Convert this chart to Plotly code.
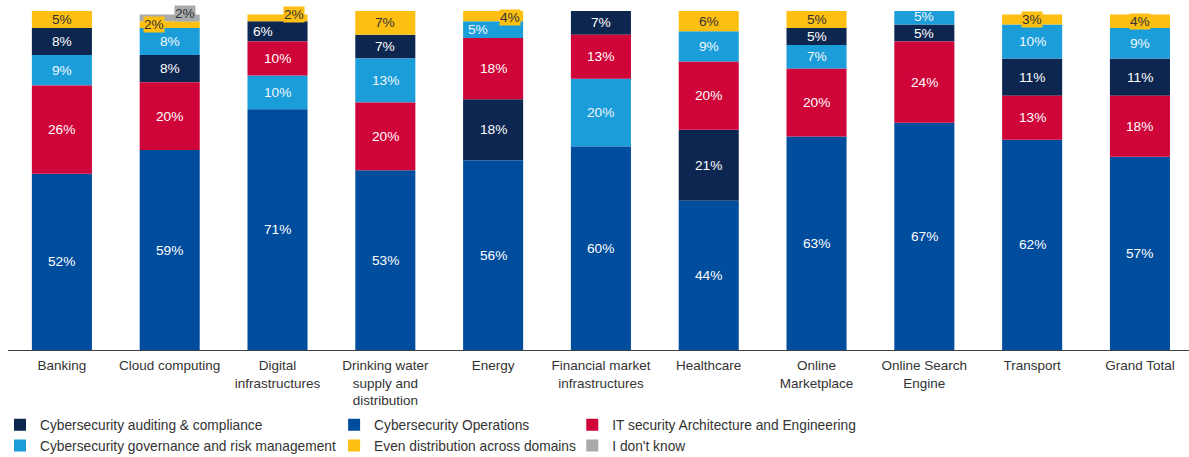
import plotly.graph_objects as go

categories = ["Banking", "Cloud computing", "Digital<br>infrastructures",
              "Drinking water<br>supply and<br>distribution", "Energy",
              "Financial market<br>infrastructures", "Healthcare",
              "Online<br>Marketplace", "Online Search<br>Engine", "Transport", "Grand Total"]

auditing = [8, 8, 6, 7, 18, 7, 21, 5, 5, 11, 11]
governance = [9, 8, 10, 13, 5, 20, 9, 7, 5, 10, 9]
operations = [52, 59, 71, 53, 56, 60, 44, 63, 67, 62, 57]
even = [5, 2, 2, 7, 4, 0, 6, 5, 0, 3, 4]
it_arch = [26, 20, 10, 20, 18, 13, 20, 20, 24, 13, 18]
dont_know = [0, 2, 0, 0, 0, 0, 0, 0, 0, 0, 0]

series = [
    ("Cybersecurity auditing & compliance", auditing, "#0D2650", "white", "legend"),
    ("Cybersecurity governance and risk management", governance, "#1A9DD9", "#F2F8FC", "legend"),
    ("Cybersecurity Operations", operations, "#004C9D", "white", "legend2"),
    ("Even distribution across domains", even, "#FDBF12", "#333333", "legend2"),
    ("IT security Architecture and Engineering", it_arch, "#CF0438", "white", "legend3"),
    ("I don't know", dont_know, "#A8AAAB", "#333333", "legend3"),
]
# tie-break order for equal values when stacking (bottom first)
tie_rank = {"Cybersecurity auditing & compliance": 0,
            "Cybersecurity governance and risk management": 1,
            "IT security Architecture and Engineering": 2,
            "Cybersecurity Operations": 3,
            "Even distribution across domains": 4,
            "I don't know": 5}

n = len(categories)
bases = {s[0]: [0] * n for s in series}
for j in range(n):
    order = sorted(series, key=lambda s: (-s[1][j], tie_rank[s[0]]))
    acc = 0
    for s in order:
        bases[s[0]][j] = acc
        acc += s[1][j]

# label nudges (style) for crowded small segments: (series, category index) -> (xshift, yshift, boxed)
nudges = {
    ("Even distribution across domains", 1): (-16, 0, True),
    ("I don't know", 1): (15, 4, True),
    ("Even distribution across domains", 2): (16, 3, True),
    ("Cybersecurity auditing & compliance", 2): (-15, 0, False),
    ("Even distribution across domains", 4): (17, -3, True),
    ("Cybersecurity governance and risk management", 4): (-15, 0, False),
    ("Even distribution across domains", 9): (0, 0, True),
    ("Even distribution across domains", 10): (0, 0, True),
}

fig = go.Figure()
annotations = []
for name, vals, color, tcolor, lg in series:
    fig.add_trace(go.Bar(
        x=list(range(n)), y=vals, base=bases[name], name=name,
        marker=dict(color=color, line=dict(width=0)), width=0.557,
        legend=lg, cliponaxis=False, hoverinfo="skip"))
    for j, v in enumerate(vals):
        if v <= 0:
            continue
        xs, ys, boxed = nudges.get((name, j), (0, 0, False))
        annotations.append(dict(
            x=j, y=bases[name][j] + v / 2, xref="x", yref="y", text=f"{v}%",
            showarrow=False, xshift=xs, yshift=ys,
            font=dict(family="Liberation Sans, Arial", size=13.7, color=tcolor),
            bgcolor=color if boxed else None, borderpad=0))

legend_common = dict(orientation="v", xref="container", yref="container",
                     xanchor="left", yanchor="top", bgcolor="rgba(0,0,0,0)",
                     font=dict(family="Liberation Sans, Arial", size=13.75, color="#333333"),
                     tracegroupgap=0, itemclick=False)

fig.update_layout(
    width=1189, height=457,
    margin=dict(l=8, r=0, t=11, b=107, autoexpand=False),
    barmode="overlay",
    plot_bgcolor="white", paper_bgcolor="white",
    showlegend=True,
    xaxis=dict(range=[-0.5, 10.455], tickmode="array", tickvals=list(range(n)),
               ticktext=categories, showline=True, linecolor="#404040", linewidth=1,
               showgrid=False, zeroline=False, ticks="", tickangle=0, automargin=False,
               ticklabelstandoff=3,
               tickfont=dict(family="Liberation Sans, Arial", size=13.5, color="#333333")),
    yaxis=dict(range=[0, 100], visible=False, showgrid=False, zeroline=False, automargin=False),
    legend=dict(x=0.0, y=0.1045, **legend_common),
    legend2=dict(x=0.281, y=0.1045, **legend_common),
    legend3=dict(x=0.4813, y=0.1045, **legend_common),
    annotations=annotations,
)

fig.write_html("out.html", config={"displayModeBar": False},
               post_script="document.body.style.margin='0';")
